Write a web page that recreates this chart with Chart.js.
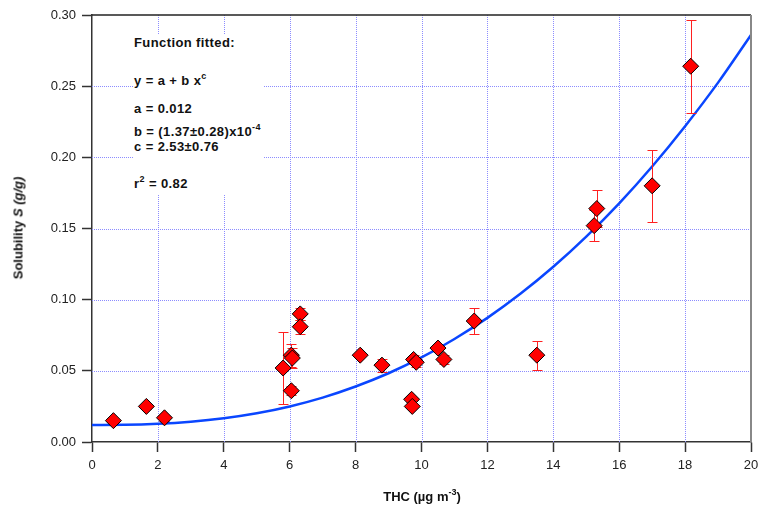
<!DOCTYPE html>
<html lang="en">
<head>
    <meta charset="UTF-8">
    <title>Solubility vs THC</title>
    <script src="https://cdn.jsdelivr.net/npm/chart.js"></script>
    <style>
        body {
            margin: 0;
            background: white;
            font-family: 'Liberation Sans', Arial, sans-serif;
        }
        .wrap {
            position: relative;
            width: 760px;
            height: 505px;
        }
        .fitbox {
            position: absolute;
            left: 133px;
            top: 34px;
            width: 130px;
            height: 160px;
            background: white;
            font-weight: bold;
            font-size: 13px;
            letter-spacing: 0.4px;
            color: #111;
        }
        .fitbox div {
            position: absolute;
            left: 1px;
            white-space: nowrap;
        }
        sup {
            font-size: 9px;
            vertical-align: 6px;
            line-height: 0;
        }
        .ytitle {
            position: absolute;
            left: 18px;
            top: 228px;
            transform: translate(-50%, -50%) rotate(-90deg);
            font-weight: bold;
            font-size: 13px;
            white-space: nowrap;
            color: #111;
        }
        .xtitle {
            position: absolute;
            left: 422px;
            top: 489px;
            transform: translateX(-50%);
            font-weight: bold;
            font-size: 13px;
            white-space: nowrap;
            color: #111;
        }
    </style>
</head>
<body>
    <div class="wrap">
        <canvas id="chart" width="760" height="505"></canvas>
        <div class="fitbox">
            <div style="top: 1px;">Function fitted:</div>
            <div style="top: 39px;">y = a + b x<sup>c</sup></div>
            <div style="top: 67px;">a = 0.012</div>
            <div style="top: 90px;">b = (1.37±0.28)x10<sup>-4</sup></div>
            <div style="top: 105px;">c = 2.53±0.76</div>
            <div style="top: 142px;">r<sup>2</sup> = 0.82</div>
        </div>
        <div class="ytitle">Solubility <i>S (g/g)</i></div>
        <div class="xtitle">THC (µg m<sup>-3</sup>)</div>
    </div>

    <script>
        // medidas (THC en ug/m3, solubilidad en g/g, error +-)
        const thcX = [0.65, 1.65, 2.2, 5.8, 6.05, 6.08, 6.05, 6.32, 6.32, 8.14, 8.8, 9.76, 9.84, 9.7, 9.72, 10.5, 10.68, 11.6, 13.5, 15.24, 15.32, 17.0, 18.17];
        const solY = [0.015, 0.025, 0.017, 0.052, 0.061, 0.059, 0.036, 0.090, 0.081, 0.061, 0.054, 0.058, 0.056, 0.030, 0.025, 0.066, 0.058, 0.085, 0.061, 0.152, 0.164, 0.180, 0.264];
        const solErr = [0, 0.002, 0.002, 0.025, 0.008, 0.007, 0.003, 0.004, 0.005, 0, 0.0045, 0.003, 0.003, 0, 0, 0.002, 0.003, 0.0094, 0.0102, 0.011, 0.013, 0.0253, 0.0328];

        // curva ajustada
        const fitX = [0, 1, 2, 3, 4, 5, 6, 7, 8, 9, 10, 11, 12, 13, 14, 15, 16, 17, 18, 19, 20];
        const fitY = [0.0120, 0.0121, 0.0128, 0.0143, 0.0167, 0.0202, 0.0250, 0.0312, 0.0390, 0.0483, 0.0594, 0.0724, 0.0872, 0.1041, 0.1231, 0.1443, 0.1677, 0.1936, 0.2219, 0.2525, 0.2860];

        const xTicks = [0, 2, 4, 6, 8, 10, 12, 14, 16, 18, 20];
        const yTicks = [0.00, 0.05, 0.10, 0.15, 0.20, 0.25, 0.30];

        const gridBlue = '#8c8cff';
        const axisColor = '#333';

        // rejilla punteada azul (sin los bordes)
        const dottedGrid = {
            id: 'dottedGrid',
            beforeDatasetsDraw(chart) {
                const ctx = chart.ctx;
                const a = chart.chartArea;
                const xs = chart.scales.x;
                const ys = chart.scales.y;
                ctx.save();
                ctx.strokeStyle = gridBlue;
                ctx.lineWidth = 1;
                ctx.setLineDash([1, 1]);
                ctx.beginPath();
                xTicks.slice(1, -1).forEach(v => {
                    const px = Math.round(xs.getPixelForValue(v)) + 0.5;
                    ctx.moveTo(px, a.top); ctx.lineTo(px, a.bottom);
                });
                yTicks.slice(1, -1).forEach(v => {
                    const py = Math.round(ys.getPixelForValue(v)) + 0.5;
                    ctx.moveTo(a.left, py); ctx.lineTo(a.right, py);
                });
                ctx.stroke();
                ctx.restore();
            }
        };

        const errorBars = {
            id: 'errorBars',
            beforeDatasetDraw(chart, args) {
                if (args.index !== 0) return;
                const ctx = chart.ctx;
                const xs = chart.scales.x;
                const ys = chart.scales.y;
                ctx.save();
                ctx.strokeStyle = '#ff2020';
                ctx.lineWidth = 1;
                thcX.forEach((x, i) => {
                    const e = solErr[i];
                    if (!e) return;
                    const px = Math.round(xs.getPixelForValue(x)) + 0.5;
                    const top = Math.round(ys.getPixelForValue(solY[i] + e)) + 0.5;
                    const bot = Math.round(ys.getPixelForValue(solY[i] - e)) + 0.5;
                    ctx.beginPath();
                    ctx.moveTo(px, top); ctx.lineTo(px, bot);
                    ctx.moveTo(px - 5, top); ctx.lineTo(px + 5, top);
                    ctx.moveTo(px - 5, bot); ctx.lineTo(px + 5, bot);
                    ctx.stroke();
                });
                ctx.restore();
            },
            afterDraw(chart) {
                // marco superior y derecho
                const ctx = chart.ctx;
                const a = chart.chartArea;
                ctx.save();
                ctx.strokeStyle = '#222';
                ctx.lineWidth = 1.5;
                ctx.beginPath();
                ctx.moveTo(a.left, a.top); ctx.lineTo(a.right, a.top);
                ctx.stroke();
                ctx.strokeStyle = '#888';
                ctx.lineWidth = 2;
                ctx.beginPath();
                ctx.moveTo(a.right, a.top); ctx.lineTo(a.right, a.bottom);
                ctx.stroke();
                ctx.restore();
            }
        };

        new Chart(document.getElementById('chart'), {
            type: 'scatter',
            data: {
                datasets: [{
                    label: 'Solubility',
                    data: thcX.map((x, i) => ({ x: x, y: solY[i] })),
                    pointStyle: 'rectRot',
                    pointRadius: 8,
                    pointBackgroundColor: '#ff0000',
                    pointBorderColor: '#000',
                    pointBorderWidth: 1,
                    order: 0
                }, {
                    label: 'Fit',
                    type: 'line',
                    data: fitX.map((x, i) => ({ x: x, y: fitY[i] })),
                    borderColor: '#0a46ff',
                    borderWidth: 2.5,
                    pointRadius: 0,
                    cubicInterpolationMode: 'monotone',
                    fill: false,
                    order: 1
                }]
            },
            options: {
                responsive: false,
                animation: false,
                layout: { padding: { left: 0, top: 15, right: 7, bottom: 0 } },
                plugins: { legend: { display: false }, tooltip: { enabled: false } },
                scales: {
                    x: {
                        type: 'linear',
                        min: 0,
                        max: 20,
                        afterBuildTicks: (s) => { s.ticks = xTicks.map(v => ({ value: v })); },
                        afterFit: (s) => { s.height = 63; s.paddingLeft = 0; s.paddingRight = 0; },
                        grid: {
                            drawOnChartArea: false,
                            tickColor: axisColor,
                            tickLength: 10,
                            tickWidth: 1.5
                        },
                        border: { color: axisColor, width: 1.5 },
                        ticks: {
                            color: '#222',
                            padding: 6,
                            font: { family: "'Liberation Sans', Arial", size: 13 },
                            callback: (v) => String(v)
                        }
                    },
                    y: {
                        type: 'linear',
                        min: 0,
                        max: 0.30,
                        afterBuildTicks: (s) => { s.ticks = yTicks.map(v => ({ value: v })); },
                        afterFit: (s) => { s.width = 92; s.paddingTop = 0; s.paddingBottom = 0; },
                        grid: {
                            drawOnChartArea: false,
                            tickColor: axisColor,
                            tickLength: 10,
                            tickWidth: 1.5
                        },
                        border: { color: axisColor, width: 1.5 },
                        ticks: {
                            color: '#222',
                            padding: 6,
                            font: { family: "'Liberation Sans', Arial", size: 13 },
                            callback: (v) => Number(v).toFixed(2)
                        }
                    }
                }
            },
            plugins: [dottedGrid, errorBars]
        });
    </script>
</body>
</html>
